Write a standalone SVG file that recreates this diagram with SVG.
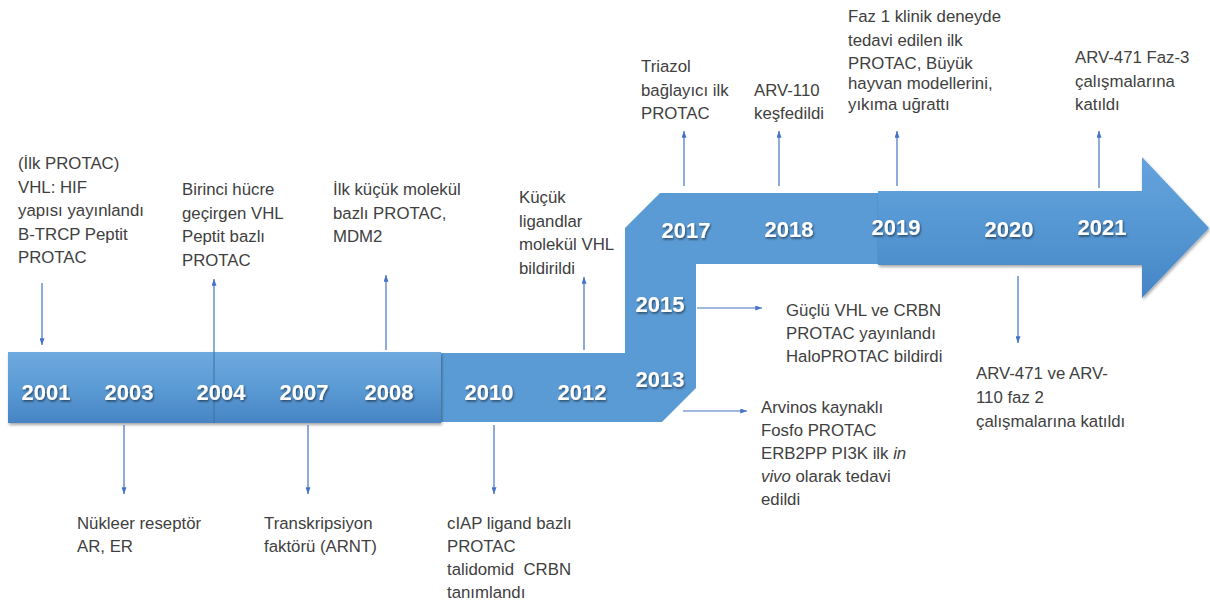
<svg xmlns="http://www.w3.org/2000/svg" width="1210" height="603" viewBox="0 0 1210 603">
<style>
.lbl{font-family:"Liberation Sans",Arial,sans-serif;font-size:16.8px;fill:#404040;white-space:pre}
.yr{font-family:"Liberation Sans",Arial,sans-serif;font-size:22px;font-weight:bold;fill:#ffffff;text-anchor:middle}
.con{stroke:#4472c4;stroke-width:1.2;fill:none;marker-end:url(#ah)}
</style>
<defs>
<marker id="ah" viewBox="0 0 8 6" markerWidth="7" markerHeight="5" refX="8" refY="3" orient="auto" markerUnits="userSpaceOnUse">
<path d="M0,0 L8,3 L0,6 z" fill="#4472c4"/>
</marker>
<linearGradient id="gLeft" x1="0" y1="0" x2="0" y2="1">
<stop offset="0" stop-color="#6ea9de"/>
<stop offset="0.5" stop-color="#5b9bd5"/>
<stop offset="1" stop-color="#4784c4"/>
</linearGradient>
<linearGradient id="gArrow" x1="0" y1="0" x2="0" y2="1">
<stop offset="0" stop-color="#65a3dd"/>
<stop offset="0.5" stop-color="#5597d3"/>
<stop offset="1" stop-color="#4685c6"/>
</linearGradient>
<filter id="ts" x="-20%" y="-20%" width="140%" height="160%">
<feDropShadow dx="1" dy="1.5" stdDeviation="0.8" flood-color="#000" flood-opacity="0.55"/>
</filter>
<filter id="bs" x="-5%" y="-10%" width="110%" height="130%">
<feDropShadow dx="1" dy="2" stdDeviation="1.5" flood-color="#000" flood-opacity="0.35"/>
</filter>
</defs>

<g id="band">
<path d="M441,353 L625,353 L625,228 L660,193 L880,193 L880,264 L696,264 L696,388 L662,422 L441,422 Z" fill="#5b9bd5"/>
<path d="M878,191 L1142,191 L1142,157 L1209,228 L1142,298 L1142,265 L878,265 Z" fill="url(#gArrow)" filter="url(#bs)"/>
<rect x="8" y="352" width="433" height="71" fill="url(#gLeft)" filter="url(#bs)"/>
<line x1="214" y1="352" x2="214" y2="423" stroke="#3f6f9f" stroke-width="1"/>
</g>

<g id="years">
<text class="yr" filter="url(#ts)" x="46" y="400">2001</text>
<text class="yr" filter="url(#ts)" x="129" y="400">2003</text>
<text class="yr" filter="url(#ts)" x="221" y="400">2004</text>
<text class="yr" filter="url(#ts)" x="304" y="400">2007</text>
<text class="yr" filter="url(#ts)" x="389" y="400">2008</text>
<text class="yr" filter="url(#ts)" x="489" y="400">2010</text>
<text class="yr" filter="url(#ts)" x="582" y="400">2012</text>
<text class="yr" filter="url(#ts)" x="660" y="387">2013</text>
<text class="yr" filter="url(#ts)" x="660" y="312">2015</text>
<text class="yr" filter="url(#ts)" x="686" y="238">2017</text>
<text class="yr" filter="url(#ts)" x="789" y="237">2018</text>
<text class="yr" filter="url(#ts)" x="896" y="235">2019</text>
<text class="yr" filter="url(#ts)" x="1009" y="237">2020</text>
<text class="yr" filter="url(#ts)" x="1102" y="235">2021</text>
</g>

<g id="connectors">
<line class="con" x1="42" y1="283" x2="42" y2="345"/>
<line class="con" x1="214" y1="352" x2="214" y2="279"/>
<line class="con" x1="386" y1="350" x2="386" y2="275"/>
<line class="con" x1="584" y1="350" x2="584" y2="277"/>
<line class="con" x1="684" y1="186" x2="684" y2="131"/>
<line class="con" x1="779" y1="186" x2="779" y2="131"/>
<line class="con" x1="897" y1="186" x2="897" y2="131"/>
<line class="con" x1="1099" y1="188" x2="1099" y2="131"/>
<line class="con" x1="697" y1="308" x2="762" y2="308"/>
<line class="con" x1="683" y1="411" x2="747" y2="411"/>
<line class="con" x1="1018" y1="276" x2="1018" y2="343"/>
<line class="con" x1="124" y1="425" x2="124" y2="494"/>
<line class="con" x1="308" y1="425" x2="308" y2="494"/>
<line class="con" x1="494" y1="425" x2="494" y2="494"/>
</g>

<g id="n2001">
<text class="lbl"><tspan x="18" y="169">(İlk PROTAC)</tspan><tspan x="18" y="192.5">VHL: HIF</tspan><tspan x="18" y="216">yapısı yayınlandı</tspan><tspan x="18" y="239.5">B-TRCP Peptit</tspan><tspan x="18" y="263">PROTAC</tspan></text>
</g>
<g id="n2004">
<text class="lbl"><tspan x="182" y="195">Birinci hücre</tspan><tspan x="182" y="218.5">geçirgen VHL</tspan><tspan x="182" y="242">Peptit bazlı</tspan><tspan x="182" y="265.5">PROTAC</tspan></text>
</g>
<g id="n2008">
<text class="lbl"><tspan x="333" y="195">İlk küçük molekül</tspan><tspan x="333" y="218.5">bazlı PROTAC,</tspan><tspan x="333" y="242">MDM2</tspan></text>
</g>
<g id="n2012">
<text class="lbl"><tspan x="519" y="203">Küçük</tspan><tspan x="519" y="226.5">ligandlar</tspan><tspan x="519" y="250">molekül VHL</tspan><tspan x="519" y="273.5">bildirildi</tspan></text>
</g>
<g id="n2017">
<text class="lbl"><tspan x="641" y="72">Triazol</tspan><tspan x="641" y="95.5">bağlayıcı ilk</tspan><tspan x="641" y="119">PROTAC</tspan></text>
</g>
<g id="n2018">
<text class="lbl"><tspan x="754" y="95.5">ARV-110</tspan><tspan x="754" y="119">keşfedildi</tspan></text>
</g>
<g id="n2019">
<text class="lbl"><tspan x="848" y="22">Faz 1 klinik deneyde</tspan><tspan x="848" y="45.5">tedavi edilen ilk</tspan><tspan x="848" y="69">PROTAC, Büyük</tspan><tspan x="848" y="88.5">hayvan modellerini,</tspan><tspan x="848" y="110">yıkıma uğrattı</tspan></text>
</g>
<g id="n2021">
<text class="lbl"><tspan x="1075" y="63">ARV-471 Faz-3</tspan><tspan x="1075" y="86.5">çalışmalarına</tspan><tspan x="1075" y="110">katıldı</tspan></text>
</g>
<g id="n2015">
<text class="lbl"><tspan x="786" y="316">Güçlü VHL ve CRBN</tspan><tspan x="786" y="339">PROTAC yayınlandı</tspan><tspan x="786" y="362">HaloPROTAC bildirdi</tspan></text>
</g>
<g id="n2013">
<text class="lbl"><tspan x="761" y="413">Arvinos kaynaklı</tspan><tspan x="761" y="436">Fosfo PROTAC</tspan><tspan x="761" y="459">ERB2PP PI3K ilk <tspan font-style="italic">in</tspan></tspan><tspan x="761" y="482"><tspan font-style="italic">vivo</tspan> olarak tedavi</tspan><tspan x="761" y="505">edildi</tspan></text>
</g>
<g id="n2020">
<text class="lbl"><tspan x="976" y="379">ARV-471 ve ARV-</tspan><tspan x="976" y="403">110 faz 2</tspan><tspan x="976" y="427">çalışmalarına katıldı</tspan></text>
</g>
<g id="n2003">
<text class="lbl"><tspan x="77" y="529">Nükleer reseptör</tspan><tspan x="77" y="552">AR, ER</tspan></text>
</g>
<g id="n2007">
<text class="lbl"><tspan x="264" y="529">Transkripsiyon</tspan><tspan x="264" y="552">faktörü (ARNT)</tspan></text>
</g>
<g id="n2010">
<text class="lbl"><tspan x="447" y="529">cIAP ligand bazlı</tspan><tspan x="447" y="552">PROTAC</tspan><tspan x="447" y="575">talidomid  CRBN</tspan><tspan x="447" y="598">tanımlandı</tspan></text>
</g>
</svg>
